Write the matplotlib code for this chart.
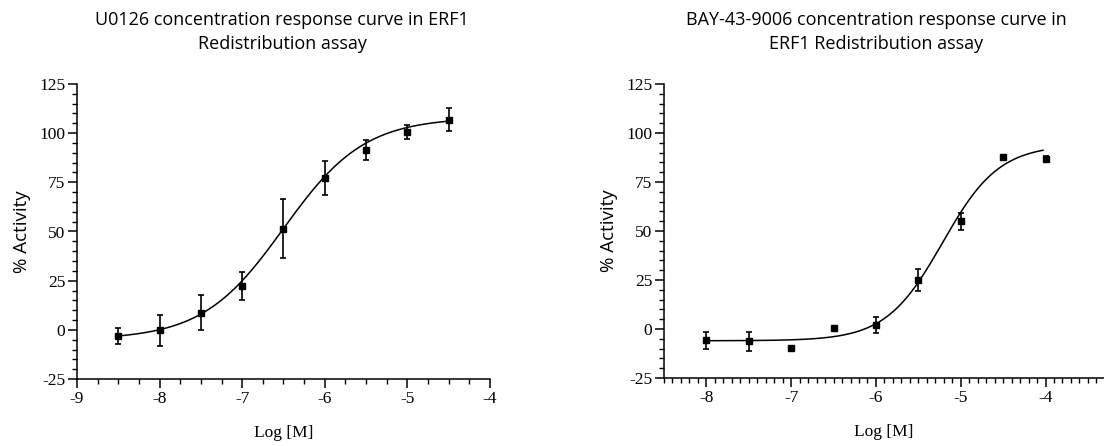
import numpy as np
import matplotlib
matplotlib.use("Agg")
import matplotlib.pyplot as plt
from matplotlib.ticker import MultipleLocator

plt.rcParams["axes.unicode_minus"] = False

# ---- datos: U0126 ----
u_logc = [-8.5, -8.0, -7.5, -7.0, -6.5, -6.0, -5.5, -5.0, -4.5]
u_act = [-3.3, -0.3, 8.8, 22.2, 51.4, 77.3, 91.5, 100.7, 106.8]
u_err = [4.0, 7.9, 8.8, 7.1, 15.0, 8.8, 5.1, 3.5, 5.8]
# parametros del ajuste sigmoidal (bottom, top, logEC50, hill)
u_fit = (-5.0, 108.0, -6.5, 0.885)
u_fit_range = (-8.5, -4.5)

# ---- datos: BAY-43-9006 ----
b_logc = [-8.0, -7.5, -7.0, -6.5, -6.0, -5.5, -5.0, -4.5, -4.0]
b_act = [-5.8, -6.3, -9.9, 0.4, 2.2, 25.0, 55.0, 88.0, 86.8]
b_err = [4.5, 4.8, 0.0, 0.0, 4.0, 5.4, 4.3, 0.0, 1.6]
b_fit = (-6.0, 94.0, -5.215, 1.3)
b_fit_range = (-8.0, -4.03)

titles = [
    "U0126 concentration response curve in ERF1\nRedistribution assay",
    "BAY-43-9006 concentration response curve in\nERF1 Redistribution assay",
]

W, H = 1104, 446
fig = plt.figure(figsize=(W / 100, H / 100), dpi=100)

# posiciones en pixeles (izq, der, arriba, abajo)
ax1 = fig.add_axes([77 / W, 1 - 379 / H, 413 / W, 295 / H])
ax2 = fig.add_axes([664 / W, 1 - 378 / H, 440 / W, 294 / H])


def hill(x, p):
    bottom, top, ec50, h = p
    return bottom + (top - bottom) / (1 + 10 ** ((ec50 - x) * h))


def panel(ax, x, y, e, fit, frange, xlim, xmaj, xmin):
    xx = np.linspace(frange[0], frange[1], 300)
    ax.plot(xx, hill(xx, fit), color="black", lw=1.1, zorder=2)
    e = np.array(e)
    mask = e > 0
    ax.errorbar(np.array(x)[mask], np.array(y)[mask], yerr=e[mask], fmt="none",
                ecolor="black", elinewidth=1.2, capsize=2.5, capthick=1.2, zorder=3)
    ax.plot(x, y, "s", color="black", ms=5, zorder=4)
    ax.set_xlim(*xlim)
    ax.set_ylim(-25, 125)
    ax.xaxis.set_major_locator(MultipleLocator(xmaj))
    ax.xaxis.set_minor_locator(MultipleLocator(xmin))
    ax.yaxis.set_major_locator(MultipleLocator(25))
    ax.yaxis.set_minor_locator(MultipleLocator(5))
    for s in ["top", "right"]:
        ax.spines[s].set_visible(False)
    for s in ["left", "bottom"]:
        ax.spines[s].set_linewidth(1.1)
    ax.tick_params(which="major", length=6.5, width=1.1, direction="out",
                   labelsize=12.5, pad=2)
    ax.tick_params(which="minor", length=3.5, width=1.0, direction="out")
    for lab in ax.get_xticklabels() + ax.get_yticklabels():
        lab.set_fontfamily("Liberation Serif")
    ax.set_xlabel("Log [M]", family="Liberation Serif", fontsize=12.5, labelpad=13)
    ax.set_ylabel("% Activity", family="Open Sans", fontsize=13.5, labelpad=6)


panel(ax1, u_logc, u_act, u_err, u_fit, u_fit_range, (-9, -4), 1, 0.25)
panel(ax2, b_logc, b_act, b_err, b_fit, b_fit_range, (-8.5, -3.31), 1, 0.1)

fig.text(282 / W, 1 - 32 / H, titles[0], ha="center", va="center",
         family="Open Sans", fontsize=13, linespacing=1.4)
fig.text(876 / W, 1 - 32 / H, titles[1], ha="center", va="center",
         family="Open Sans", fontsize=13, linespacing=1.4)

fig.savefig("out.png", dpi=100)
